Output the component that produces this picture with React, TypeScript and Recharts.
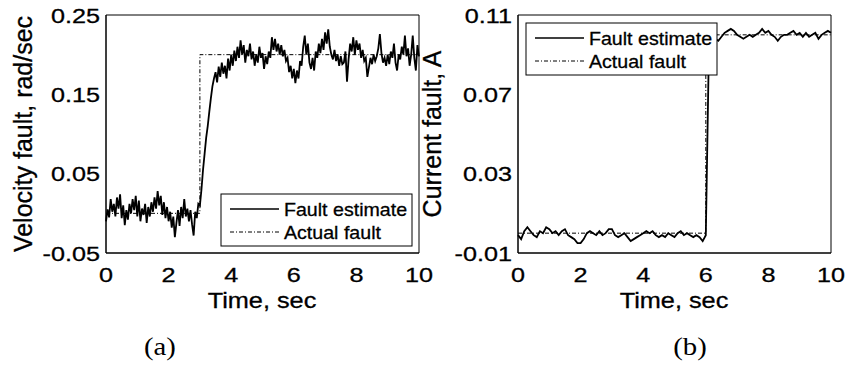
import React from 'react'
import { LineChart, Line, XAxis, YAxis } from 'recharts'

const FONT = '"Liberation Sans", Arial, sans-serif'
const SERIF = '"Liberation Serif", "Times New Roman", serif'

const timeTicks = [0, 2, 4, 6, 8, 10]
const velocityTicks = [-0.05, 0.05, 0.15, 0.25]
const currentTicks = [-0.01, 0.03, 0.07, 0.11]

// (a) velocity fault estimate, sampled every 0.05 s
const velocityStep = 0.05
const velocityEstimate = [
  -0.010, 0.005, -0.005, 0.018, 0.002, 0.012, -0.004, 0.020, 0.006, 0.024,
  -0.006, 0.010, -0.015, 0.004, -0.008, 0.012, 0.000, 0.018, 0.004, 0.022,
  -0.004, 0.016, -0.010, 0.006, -0.002, 0.012, -0.012, 0.008, -0.004, 0.014,
  0.002, 0.020, 0.006, 0.028, 0.010, 0.022, -0.002, 0.014, -0.006, 0.008,
  -0.010, 0.002, -0.018, -0.004, -0.030, -0.012, 0.004, -0.016, 0.008, -0.006,
  0.018, -0.004, 0.006, -0.010, 0.004, -0.014, -0.028, 0.002, -0.006, 0.012,
  0.010, 0.030, 0.055, 0.075, 0.095, 0.110, 0.128, 0.145, 0.160, 0.170,
  0.178, 0.165, 0.185, 0.172, 0.190, 0.176, 0.186, 0.170, 0.195, 0.180,
  0.200, 0.186, 0.205, 0.192, 0.210, 0.196, 0.218, 0.200, 0.212, 0.190,
  0.206, 0.198, 0.214, 0.194, 0.204, 0.186, 0.200, 0.190, 0.210, 0.196,
  0.202, 0.182, 0.198, 0.188, 0.204, 0.196, 0.222, 0.206, 0.220, 0.204,
  0.214, 0.200, 0.212, 0.198, 0.206, 0.192, 0.196, 0.178, 0.186, 0.170,
  0.182, 0.164, 0.180, 0.170, 0.192, 0.186, 0.210, 0.224, 0.200, 0.214,
  0.190, 0.182, 0.196, 0.180, 0.204, 0.196, 0.214, 0.202, 0.220, 0.206,
  0.228, 0.214, 0.232, 0.210, 0.200, 0.194, 0.206, 0.192, 0.200, 0.186,
  0.198, 0.188, 0.190, 0.204, 0.166, 0.194, 0.214, 0.204, 0.222, 0.200,
  0.218, 0.206, 0.214, 0.196, 0.206, 0.192, 0.196, 0.172, 0.184, 0.196,
  0.188, 0.200, 0.192, 0.198, 0.208, 0.226, 0.202, 0.190, 0.196, 0.186,
  0.200, 0.188, 0.204, 0.196, 0.214, 0.190, 0.180, 0.200, 0.194, 0.210,
  0.200, 0.224, 0.198, 0.208, 0.186, 0.200, 0.224, 0.196, 0.180, 0.212,
  0.198,
]
const velocityActualTime = [0, 3, 3, 10]
const velocityActualValue = [0, 0, 0.2, 0.2]

// (b) current fault estimate, sampled every 0.1 s
const currentStep = 0.1
const currentEstimate = [
  -0.001, -0.003, 0.001, 0.003, 0.001, -0.001, -0.002, 0.001, 0.000, 0.003,
  0.002, 0.000, 0.001, -0.001, 0.001, 0.002, -0.001, -0.002, -0.003, -0.005,
  -0.005, -0.003, 0.000, 0.001, 0.000, -0.001, 0.001, -0.001, 0.000, 0.002,
  0.002, -0.001, -0.002, -0.001, 0.000, -0.002, -0.004, -0.003, -0.002, -0.001,
  0.000, 0.001, 0.000, 0.001, -0.001, -0.002, -0.001, -0.002, 0.000, -0.001,
  -0.002, 0.000, 0.001, -0.001, 0.000, -0.001, -0.002, -0.001, -0.002, -0.004,
  -0.001, 0.094, 0.097, 0.098, 0.097, 0.099, 0.101, 0.102, 0.103, 0.102,
  0.100, 0.099, 0.098, 0.099, 0.100, 0.099, 0.100, 0.101, 0.103, 0.101,
  0.102, 0.100, 0.099, 0.097, 0.099, 0.100, 0.100, 0.101, 0.102, 0.100,
  0.101, 0.099, 0.101, 0.099, 0.100, 0.101, 0.098, 0.100, 0.101, 0.102,
  0.101,
]
const currentActualTime = [0, 6, 6, 10]
const currentActualValue = [0, 0, 0.1, 0.1]

const sampled = (vals: number[], step: number) =>
  vals.map((v, i) => ({ t: Math.round(i * step * 100) / 100, v }))
const paired = (ts: number[], vs: number[]) => ts.map((t, i) => ({ t, v: vs[i] }))

// slight stroke to mimic the heavier print-style text
const ink = { fill: '#000', stroke: '#000', strokeWidth: 0.3 }

const XTick = ({ x, y, payload }: any) => (
  <text transform={`translate(${x},${y + 29}) scale(1.2,1)`} textAnchor="middle" fontSize={21} fontFamily={FONT} {...ink}>
    {payload.value}
  </text>
)

const YTick = ({ x, y, payload }: any) => (
  <text transform={`translate(${x - 6},${y + 7.5}) scale(1.2,1)`} textAnchor="end" fontSize={21} fontFamily={FONT} {...ink}>
    {Number(payload.value).toFixed(2)}
  </text>
)

interface PanelProps {
  width: number
  yWidth: number
  right: number
  domain: [number, number]
  yTicks: number[]
  estimate: { t: number; v: number }[]
  actual: { t: number; v: number }[]
}

function Panel({ width, yWidth, right, domain, yTicks, estimate, actual }: PanelProps) {
  const axisStroke = { stroke: '#000', strokeWidth: 1 }
  return (
    <LineChart width={width} height={370} margin={{ top: 15, right, bottom: 87, left: 0 }}>
      <XAxis xAxisId="main" dataKey="t" type="number" domain={[0, 10]} ticks={timeTicks} interval={0}
        height={30} tickSize={0} tickMargin={0} tickLine={false} axisLine={axisStroke} tick={<XTick />} />
      <XAxis xAxisId="bm" type="number" domain={[0, 10]} ticks={timeTicks} interval={0} mirror
        tick={false} tickSize={4} tickLine={axisStroke} axisLine={axisStroke} />
      <XAxis xAxisId="tm" orientation="top" type="number" domain={[0, 10]} ticks={timeTicks} interval={0} mirror
        tick={false} tickSize={4} tickLine={axisStroke} axisLine={axisStroke} />
      <YAxis yAxisId="main" type="number" domain={domain} ticks={yTicks} interval={0} width={yWidth}
        tickSize={0} tickMargin={0} tickLine={false} axisLine={axisStroke} tick={<YTick />} />
      <YAxis yAxisId="lm" type="number" domain={domain} ticks={yTicks} interval={0} mirror
        tick={false} tickSize={4} tickLine={axisStroke} axisLine={axisStroke} />
      <YAxis yAxisId="rm" orientation="right" type="number" domain={domain} ticks={yTicks} interval={0} mirror
        tick={false} tickSize={4} tickLine={axisStroke} axisLine={axisStroke} />
      <Line xAxisId="main" yAxisId="main" data={actual} dataKey="v" type="linear" stroke="#000"
        strokeWidth={1} strokeDasharray="4 2 1 2" dot={false} isAnimationActive={false} />
      <Line xAxisId="main" yAxisId="main" data={estimate} dataKey="v" type="linear" stroke="#000"
        strokeWidth={1.8} dot={false} isAnimationActive={false} />
    </LineChart>
  )
}

function LegendBox({ x, y }: { x: number; y: number }) {
  const txt = { fontSize: 18.5, fontFamily: FONT, ...ink }
  return (
    <g>
      <rect x={x} y={y} width={191} height={52} fill="#fff" stroke="#000" strokeWidth={1} />
      <line x1={x + 9} x2={x + 58} y1={y + 15} y2={y + 15} stroke="#000" strokeWidth={1.6} />
      <text transform={`translate(${x + 63},${y + 22}) scale(1.06,1)`} {...txt}>Fault estimate</text>
      <line x1={x + 9} x2={x + 58} y1={y + 38} y2={y + 38} stroke="#000" strokeWidth={1} strokeDasharray="4 2 1 2" />
      <text transform={`translate(${x + 63},${y + 44.5}) scale(1.06,1)`} {...txt}>Actual fault</text>
    </g>
  )
}

export default function App() {
  return (
    <div style={{ position: 'fixed', left: 0, top: 0, width: 846, height: 370, background: '#fff' }}>
      <div style={{ position: 'absolute', left: 0, top: 0 }}>
        <Panel width={446} yWidth={106} right={27} domain={[-0.05, 0.25]} yTicks={velocityTicks}
          estimate={sampled(velocityEstimate, velocityStep)} actual={paired(velocityActualTime, velocityActualValue)} />
      </div>
      <div style={{ position: 'absolute', left: 420, top: 0 }}>
        <Panel width={426} yWidth={98} right={15} domain={[-0.01, 0.11]} yTicks={currentTicks}
          estimate={sampled(currentEstimate, currentStep)} actual={paired(currentActualTime, currentActualValue)} />
      </div>
      <svg width={846} height={370} style={{ position: 'absolute', left: 0, top: 0, pointerEvents: 'none' }}>
        <text transform="translate(32,134) rotate(-90)" textAnchor="middle" fontSize={25} fontFamily={FONT} {...ink}>
          Velocity fault, rad/sec
        </text>
        <text transform="translate(441,134) rotate(-90)" textAnchor="middle" fontSize={25} fontFamily={FONT} {...ink}>
          Current fault, A
        </text>
        <text transform="translate(262,308) scale(1.15,1)" textAnchor="middle" fontSize={22} fontFamily={FONT} {...ink}>Time, sec</text>
        <text transform="translate(674,308) scale(1.15,1)" textAnchor="middle" fontSize={22} fontFamily={FONT} {...ink}>Time, sec</text>
        <text transform="translate(160,355) scale(1.15,1)" textAnchor="middle" fontSize={25} fontFamily={SERIF} fill="#000">(a)</text>
        <text transform="translate(690,355) scale(1.15,1)" textAnchor="middle" fontSize={25} fontFamily={SERIF} fill="#000">(b)</text>
        <LegendBox x={221} y={194} />
        <LegendBox x={526} y={23} />
      </svg>
    </div>
  )
}
